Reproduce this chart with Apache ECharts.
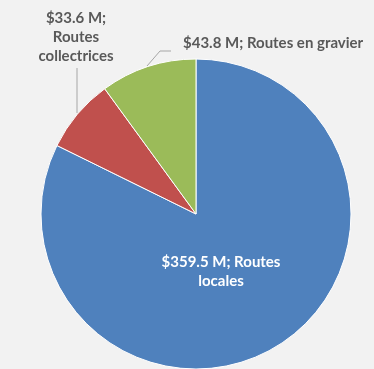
<!DOCTYPE html>
<html><head><meta charset="utf-8">
<script src="https://cdn.jsdelivr.net/npm/echarts@6/dist/echarts.min.js"></script>
<style>html,body{margin:0;padding:0;background:#f2f2f2;}#c{width:374px;height:369px;}</style>
</head><body><div id="c"></div>
<script>
const categories = ['Routes locales', 'Routes collectrices', 'Routes en gravier'];
const values = [359.5, 33.6, 43.8];
const labelTexts = ['$359.5 M; Routes\nlocales', '$33.6 M;\nRoutes\ncollectrices', '$43.8 M; Routes en gravier'];
const colors = ['#4f81bd', '#c0504d', '#9bbb59'];

const chart = echarts.init(document.getElementById('c'));
const data = values.map((v, i) => ({
  name: categories[i],
  value: v,
  itemStyle: { color: colors[i] },
  label: {
    formatter: labelTexts[i],
    color: i === 0 ? '#ffffff' : '#595959',
    align: i === 2 ? 'left' : 'center'
  },
  labelLine: { show: i !== 0 }
}));
chart.setOption({
  backgroundColor: '#f2f2f2',
  animation: false,
  series: [{
    type: 'pie',
    center: [196, 214],
    radius: 155,
    startAngle: 90,
    clockwise: true,
    data: data,
    itemStyle: { borderColor: '#ffffff', borderWidth: 1 },
    label: {
      show: true,
      position: 'outside',
      overflow: 'none',
      fontFamily: 'Lato',
      fontWeight: 'bold',
      fontSize: 15,
      lineHeight: 19
    },
    labelLine: { show: true, lineStyle: { color: '#a6a6a6', width: 1 } },
    labelLayout: function (p) {
      if (p.dataIndex === 0) return { x: 221, y: 272, align: 'center', verticalAlign: 'middle' };
      if (p.dataIndex === 1) return { x: 76, y: 37, align: 'center', verticalAlign: 'middle',
        labelLinePoints: [[77, 113], [77, 90], [77, 68]] };
      return { x: 183, y: 43, align: 'left', verticalAlign: 'middle',
        labelLinePoints: [[147, 66], [160, 51], [171, 51]] };
    }
  }]
});
</script></body></html>
